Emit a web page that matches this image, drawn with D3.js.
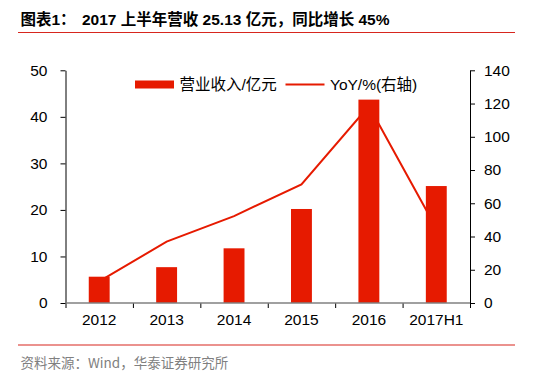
<!DOCTYPE html>
<html>
<head>
<meta charset="utf-8">
<script src="https://cdn.jsdelivr.net/npm/d3@7"></script>
<style>
  body { margin: 0; background: #fff; }
  svg { display: block; font-family: "Liberation Sans", Arial, "Noto Sans CJK SC", sans-serif; }
</style>
</head>
<body>
<div id="chart"></div>
<script>
// chart data
var years = ["2012", "2013", "2014", "2015", "2016", "2017H1"];
var revenue = [5.65, 7.7, 11.75, 20.2, 43.7, 25.13];   // 营业收入/亿元
var yoy = [13, 36.9, 52.3, 71.4, 118.5, 45];           // YoY/%
var leftTicks = [0, 10, 20, 30, 40, 50];
var rightTicks = [0, 20, 40, 60, 80, 100, 120, 140];

var red = "#e61a00";

var W = 535, H = 377;
var plot = {left: 65.5, right: 470, top: 70.3, bottom: 303};

var svg = d3.select("#chart")
  .append("svg")
    .attr("width", W)
    .attr("height", H);

// title + red rules
svg.append("text")
  .attr("x", 20.5)
  .attr("y", 25)
  .attr("font-size", "15.5px")
  .attr("font-weight", "bold")
  .attr("fill", "#000")
  .text("图表1：");
svg.append("text")
  .attr("x", 82)
  .attr("y", 25)
  .attr("font-size", "15.5px")
  .attr("font-weight", "bold")
  .attr("fill", "#000")
  .text("2017 上半年营收 25.13 亿元，同比增长 45%");

svg.append("line")
  .attr("x1", 18).attr("x2", 515)
  .attr("y1", 32.5).attr("y2", 32.5)
  .attr("stroke", "#d7261e").attr("stroke-width", 1.2);

svg.append("line")
  .attr("x1", 18).attr("x2", 515)
  .attr("y1", 345).attr("y2", 345)
  .attr("stroke", "#d7261e").attr("stroke-width", 1.2);

svg.append("text")
  .attr("x", 20.5)
  .attr("y", 367.5)
  .attr("font-size", "13.5px")
  .attr("fill", "#808080")
  .attr("font-family", "'Noto Sans CJK SC', sans-serif")
  .text("资料来源：Wind，华泰证券研究所");

// scales
var x = d3.scaleBand()
  .domain(years)
  .range([plot.left, plot.right])
  .padding(0);

var xEdge = d3.scaleLinear()
  .domain([0, years.length])
  .range([plot.left, plot.right]);

var yL = d3.scaleLinear()
  .domain([0, 50])
  .range([plot.bottom, plot.top]);

var yR = d3.scaleLinear()
  .domain([0, 140])
  .range([plot.bottom, plot.top]);

// line (drawn under the bars)
var line = d3.line()
  .x(function(d, i) { return x(years[i]) + x.bandwidth() / 2; })
  .y(function(d) { return yR(d); });

svg.append("path")
  .datum(yoy)
  .attr("fill", "none")
  .attr("stroke", red)
  .attr("stroke-width", 2)
  .attr("d", line);

// bars
var barW = x.bandwidth() * 0.31;
svg.selectAll("rect.bar")
  .data(revenue)
  .enter()
  .append("rect")
    .attr("class", "bar")
    .attr("x", function(d, i) { return x(years[i]) + (x.bandwidth() - barW) / 2; })
    .attr("y", function(d) { return yL(d); })
    .attr("width", barW)
    .attr("height", function(d) { return plot.bottom - yL(d); })
    .attr("fill", red);

// left axis
var axL = svg.append("g")
  .attr("transform", "translate(" + plot.left + ",0)")
  .call(d3.axisLeft(yL).tickValues(leftTicks).tickSize(5).tickSizeOuter(0).tickPadding(13));

// right axis
var axR = svg.append("g")
  .attr("transform", "translate(" + plot.right + ",0)")
  .call(d3.axisRight(yR).tickValues(rightTicks).tickSize(5).tickSizeOuter(0).tickPadding(9));

[axL, axR].forEach(function(a) {
  a.select(".domain").attr("stroke", "#000");
  a.selectAll(".tick line").attr("stroke", "#000");
  a.selectAll("text")
    .attr("font-size", "15.5px")
    .attr("font-family", "'Liberation Sans', Arial, sans-serif")
    .attr("fill", "#000");
});

// x axis: tick marks at band edges, labels at band centers
svg.append("g")
  .attr("transform", "translate(0," + plot.bottom + ")")
  .call(d3.axisBottom(xEdge).ticks(years.length).tickSize(5).tickSizeOuter(0).tickFormat(""))
  .call(function(g) {
    g.select(".domain").remove();
    g.selectAll(".tick line").attr("stroke", "#000");
  });

var axX = svg.append("g")
  .attr("transform", "translate(0," + plot.bottom + ")")
  .call(d3.axisBottom(x).tickSize(0).tickPadding(11));
axX.select(".domain").remove();
axX.selectAll("text")
  .attr("font-size", "15.5px")
  .attr("font-family", "'Liberation Sans', Arial, sans-serif")
  .attr("fill", "#000");

svg.append("line")
  .attr("x1", plot.left).attr("x2", plot.right)
  .attr("y1", plot.bottom).attr("y2", plot.bottom)
  .attr("stroke", "#808080").attr("stroke-width", 1.5);

// legend
var legend = svg.append("g");
legend.append("rect")
  .attr("x", 135).attr("y", 80.5)
  .attr("width", 39).attr("height", 8)
  .attr("fill", red);
legend.append("text")
  .attr("x", 179.5).attr("y", 90)
  .attr("font-size", "15.5px")
  .attr("fill", "#000")
  .text("营业收入/亿元");
legend.append("line")
  .attr("x1", 285.5).attr("x2", 324.5)
  .attr("y1", 84.5).attr("y2", 84.5)
  .attr("stroke", red).attr("stroke-width", 2);
legend.append("text")
  .attr("x", 330).attr("y", 90)
  .attr("font-size", "15.5px")
  .attr("fill", "#000")
  .text("YoY/%(右轴)");
</script>
</body>
</html>
